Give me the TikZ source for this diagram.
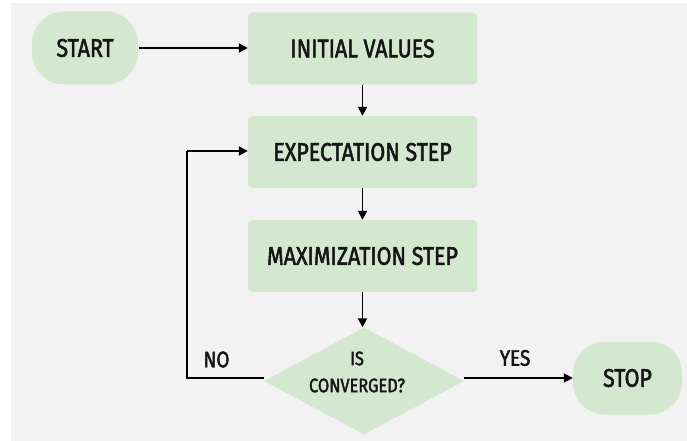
\documentclass[tikz,border=0pt]{standalone}
\usepackage{fontspec}
\setmainfont{Fira Sans}[FakeStretch=0.84, FakeBold=2]
\usetikzlibrary{shapes.geometric,arrows.meta}
\definecolor{panel}{HTML}{F2F2F2}
\definecolor{boxfill}{HTML}{D3E8CE}
\definecolor{ink}{HTML}{161616}
\tikzset{
  procbox/.style={draw=none, fill=boxfill, rounded corners=4pt,
    minimum width=229pt, minimum height=72pt, inner sep=0pt,
    text=ink, font=\fontsize{25.5}{27}\selectfont},
  termbox/.style={draw=none, fill=boxfill, rounded corners=32pt,
    minimum height=73pt, inner sep=0pt,
    text=ink, font=\fontsize{25.5}{27}\selectfont},
  decbox/.style={draw=none, fill=boxfill, shape=diamond, aspect=1.87,
    minimum width=200pt, minimum height=107pt, inner sep=0pt},
  plain/.style={text=ink, inner sep=0pt},
  flow/.style={draw=black, line width=1.8pt, -{Triangle[length=9pt,width=9pt]}},
  link/.style={draw=black, line width=1.8pt}
}
\begin{document}
\begin{tikzpicture}[x=1pt,y=-1pt]
  \useasboundingbox (0,0) rectangle (687,441);
  \fill[panel] (11,3) rectangle (687,441);

  % terminals
  \node[termbox, minimum width=106pt] (start) at (85,48) {START};
  \node[termbox, minimum width=109pt] (stop) at (627.5,378) {STOP};

  % process steps
  \node[procbox] (init) at (362.5,48.5) {INITIAL VALUES};
  \node[procbox] (estep) at (362.5,152) {EXPECTATION STEP};
  \node[procbox] (mstep) at (362.5,256) {MAXIMIZATION STEP};

  % convergence test
  \node[decbox] (conv) at (364,381) {};
  \node[plain, align=center, font=\fontsize{19.5}{27}\selectfont] (convtxt) at (357,372) {IS\\CONVERGED?};

  % branch labels
  \node[plain, font=\fontsize{22.5}{24}\selectfont] (nolab) at (216.5,359.5) {NO};
  \node[plain, font=\fontsize{22.5}{24}\selectfont] (yeslab) at (515,358) {YES};

  % connectors
  \coordinate (loopa) at (187,378);
  \coordinate (loopb) at (187,151);
  \draw[flow] (start.east) ++(1,0) -- (init.west |- start.east);
  \draw[flow] (init.south) -- (estep.north);
  \draw[flow] (estep.south) -- (mstep.north);
  \draw[flow] (mstep.south) -- (mstep.south |- conv.north);
  \draw[link] (conv.west |- loopa) -- (loopa) -- (loopb);
  \draw[flow] (loopb) -- (loopb -| estep.west);
  \draw[flow] (conv.east |- stop.west) -- (stop.west);
\end{tikzpicture}
\end{document}
